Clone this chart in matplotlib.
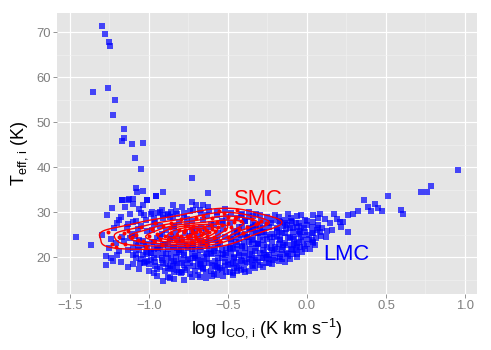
import numpy as np
import matplotlib
matplotlib.use('Agg')
import matplotlib.pyplot as plt

# LMC clouds (log I_CO, T_eff)
lmc_points = [
    # high-temperature tail
    (-1.30, 71.3), (-1.28, 69.6), (-1.25, 67.8), (-1.245, 67.0), (-1.26, 57.7), (-1.354, 56.7),
    (-1.213, 55.0), (-1.228, 51.7), (-1.156, 48.4), (-1.16, 46.5), (-1.17, 45.8), (-1.11, 45.2),
    (-1.036, 45.4), (-1.09, 42.1), (-1.049, 39.7), (-0.726, 37.5), (-1.084, 35.3), (-1.078, 34.5),
    (-1.036, 34.7), (-0.958, 33.6), (-1.17, 32.8), (-1.125, 33.0), (-1.10, 33.0), (-1.01, 32.8),
    (-0.909, 34.4), (-0.956, 33.7), (-0.627, 34.2), (-1.464, 24.4), (-1.365, 22.6),
    # bright tail
    (0.954, 39.3), (0.785, 35.8), (0.72, 34.5), (0.762, 34.5), (0.513, 33.6), (0.595, 30.5),
    (0.605, 29.6), (0.359, 32.6), (0.43, 31.8), (0.451, 30.9), (0.384, 31.1), (0.405, 30.2),
    (0.477, 30.3), (0.321, 30.2), (0.293, 29.6), (0.261, 29.3), (0.23, 27.9), (0.259, 25.6),
    (0.213, 26.7), (0.169, 29.5), (0.084, 29.6), (0.038, 29.3), (-0.04, 29.3), (0.114, 28.4),
    (0.146, 27.6), (0.188, 28.4), (0.209, 27.9), (0.156, 26.0), (0.125, 25.8), (0.093, 26.4),
    (0.061, 26.0), (0.072, 27.1), (0.03, 23.8), (0.036, 23.2), (-0.002, 24.9), (0.0, 27.1),
    (-0.044, 22.3), (-0.06, 20.8), (-0.097, 21.6), (-0.17, 20.1), (-0.213, 19.3), (-0.255, 20.1),
    (-0.287, 19.7), (-0.128, 20.8), (-0.065, 23.2), (-0.023, 23.8), (-0.087, 24.5), (-0.044, 25.6),
    (-0.087, 26.4), (-0.128, 27.1), (-0.17, 27.9), (-0.139, 28.2), (-0.097, 27.9), (-0.213, 28.2),
    (-0.255, 27.5), (-0.192, 26.0), (-0.234, 24.5), (-0.17, 23.8), (-0.128, 22.7), (-0.203, 22.3),
    (-0.255, 22.3), (-0.277, 23.8), (-0.287, 25.6), (-0.223, 21.6), (-0.16, 21.6),
    (0.02, 21.8), (0.05, 22.8), (0.09, 24.8), (0.12, 24.4), (0.04, 25.3), (0.07, 28.8),
    (-0.06, 20.0), (-0.03, 21.2), (-0.08, 22.9), (-0.02, 22.4), (-0.05, 25.8), (-0.07, 27.6),
    (-0.01, 28.2), (-0.04, 26.9),
    (-0.16, 19.5), (-0.12, 20.2), (-0.15, 22.8), (-0.11, 24.2), (-0.16, 25.3), (-0.13, 26.2),
    (-0.18, 29.0), (-0.10, 28.6), (-0.19, 24.8),
    (-0.30, 18.3), (-0.24, 18.8), (-0.27, 21.0), (-0.31, 23.0), (-0.26, 25.0), (-0.30, 26.8),
    (-0.25, 28.9), (-0.32, 29.5),
    # main body
    (-1.272, 20.2), (-1.27, 18.2), (-1.20, 20.4), (-1.30, 24.9), (-1.268, 29.3), (-1.236, 31.0),
    (-1.204, 27.6), (-1.177, 29.0), (-1.13, 32.8), (-1.10, 31.9), (-1.17, 32.6), (-1.01, 32.8),
    (-1.24, 19.7), (-1.25, 22.0), (-1.22, 26.5), (-1.24, 24.0), (-1.21, 23.2), (-1.19, 21.4),
    (-1.23, 19.2),
    (-1.18, 19.0), (-1.13, 21.5), (-1.16, 23.6), (-1.11, 25.2), (-1.14, 26.8), (-1.19, 28.3),
    (-1.12, 29.6), (-1.15, 31.2), (-1.10, 20.4), (-1.17, 24.5), (-1.13, 27.4), (-1.13, 17.8),
    (-1.10, 18.4), (-1.057, 18.6), (-1.025, 19.0),
    (-1.06, 17.3), (-1.03, 18.6), (-1.08, 19.9), (-1.02, 21.2), (-1.07, 22.4), (-1.04, 23.5),
    (-1.09, 24.7), (-1.01, 25.8), (-1.05, 27.0), (-1.08, 28.1), (-1.03, 29.3), (-1.06, 30.6),
    (-1.04, 31.5), (-1.01, 20.6), (-1.07, 26.3), (-1.02, 23.0), (-0.98, 30.0), (-1.00, 17.0),
    (-0.97, 16.4), (-0.93, 17.8), (-0.96, 18.9), (-0.92, 19.8), (-0.99, 20.9), (-0.94, 21.7),
    (-0.91, 22.6), (-0.97, 23.4), (-0.95, 24.3), (-0.92, 25.1), (-0.98, 26.0), (-0.93, 26.9),
    (-0.96, 27.8), (-0.91, 28.8), (-0.94, 29.9), (-0.92, 30.4), (-0.99, 19.3), (-0.95, 22.1),
    (-0.93, 24.8), (-0.97, 27.3), (-0.909, 14.7), (-0.95, 15.8),
    (-0.87, 15.4), (-0.84, 16.6), (-0.88, 17.6), (-0.82, 18.5), (-0.86, 19.3), (-0.83, 20.1),
    (-0.89, 20.8), (-0.81, 21.6), (-0.85, 22.3), (-0.88, 23.0), (-0.82, 23.8), (-0.86, 24.5),
    (-0.83, 25.3), (-0.89, 26.1), (-0.84, 27.0), (-0.81, 27.9), (-0.87, 28.9), (-0.846, 31.6),
    (-0.86, 30.1), (-0.82, 29.6), (-0.85, 18.0), (-0.81, 21.2), (-0.87, 24.1), (-0.84, 26.6),
    (-0.88, 29.4), (-0.793, 31.2),
    (-0.78, 15.0), (-0.74, 16.2), (-0.77, 17.1), (-0.72, 18.0), (-0.79, 18.8), (-0.75, 19.6),
    (-0.71, 20.3), (-0.78, 21.0), (-0.73, 21.7), (-0.76, 22.4), (-0.72, 23.1), (-0.79, 23.8),
    (-0.74, 24.6), (-0.77, 25.4), (-0.71, 26.2), (-0.76, 27.1), (-0.73, 28.0), (-0.78, 29.0),
    (-0.74, 30.2), (-0.73, 32.3), (-0.70, 31.6), (-0.79, 16.8), (-0.72, 19.9), (-0.77, 22.8),
    (-0.73, 25.8), (-0.76, 28.5), (-0.80, 16.4), (-0.82, 17.1),
    (-0.68, 15.6), (-0.64, 16.8), (-0.67, 17.7), (-0.62, 18.6), (-0.69, 19.4), (-0.65, 20.1),
    (-0.61, 20.9), (-0.68, 21.6), (-0.63, 22.4), (-0.66, 23.1), (-0.62, 23.9), (-0.69, 24.7),
    (-0.64, 25.5), (-0.67, 26.4), (-0.61, 27.3), (-0.66, 28.3), (-0.63, 29.4), (-0.68, 30.5),
    (-0.656, 31.6), (-0.625, 31.2), (-0.66, 17.3), (-0.63, 20.6), (-0.67, 23.5), (-0.62, 26.8),
    (-0.57, 16.0), (-0.54, 17.1), (-0.58, 18.1), (-0.52, 19.0), (-0.56, 19.8), (-0.53, 20.6),
    (-0.59, 21.3), (-0.51, 22.1), (-0.55, 22.9), (-0.58, 23.7), (-0.52, 24.5), (-0.56, 25.3),
    (-0.53, 26.2), (-0.59, 27.1), (-0.54, 28.0), (-0.51, 29.0), (-0.57, 30.0), (-0.55, 17.6),
    (-0.51, 21.0), (-0.57, 24.1), (-0.53, 27.5), (-0.60, 15.9), (-0.49, 16.8),
    (-0.47, 16.5), (-0.44, 17.6), (-0.48, 18.5), (-0.42, 19.3), (-0.46, 20.1), (-0.43, 20.9),
    (-0.49, 21.7), (-0.41, 22.5), (-0.45, 23.3), (-0.48, 24.1), (-0.42, 24.9), (-0.46, 25.8),
    (-0.43, 26.7), (-0.49, 27.6), (-0.44, 28.6), (-0.41, 29.6), (-0.45, 18.9), (-0.47, 22.1),
    (-0.44, 25.4),
    (-0.37, 17.0), (-0.34, 18.0), (-0.38, 18.9), (-0.32, 19.7), (-0.36, 20.5), (-0.33, 21.3),
    (-0.39, 22.1), (-0.31, 22.9), (-0.35, 23.7), (-0.38, 24.5), (-0.32, 25.4), (-0.36, 26.3),
    (-0.33, 27.2), (-0.39, 28.1), (-0.34, 29.1), (-0.37, 30.0), (-0.35, 19.3), (-0.37, 23.3),
    (-0.34, 26.8), (-0.40, 17.4),
    # dense core
    (-0.95, 17.4), (-0.90, 16.9), (-0.86, 17.3), (-0.81, 16.7), (-0.76, 17.5), (-0.71, 16.9),
    (-0.66, 17.6), (-0.61, 17.0), (-0.56, 17.4), (-0.51, 16.8), (-0.46, 17.5), (-0.42, 17.1),
    (-1.00, 18.5), (-0.96, 18.1), (-0.91, 18.6), (-0.87, 18.0), (-0.83, 18.7), (-0.78, 18.2),
    (-0.74, 18.6), (-0.69, 18.0), (-0.65, 18.8), (-0.60, 18.3), (-0.56, 18.7), (-0.52, 18.0),
    (-0.47, 18.6), (-0.43, 18.1), (-0.39, 18.7), (-0.35, 18.3), (-0.31, 18.9),
    (-1.05, 19.6), (-1.01, 19.2), (-0.97, 19.8), (-0.92, 19.3), (-0.88, 19.7), (-0.84, 19.1),
    (-0.80, 19.6), (-0.76, 19.3), (-0.71, 19.8), (-0.67, 19.2), (-0.63, 19.6), (-0.58, 19.1),
    (-0.54, 19.7), (-0.50, 19.4), (-0.46, 19.8), (-0.41, 19.2), (-0.37, 19.6), (-0.33, 19.3),
    (-0.28, 19.9), (-0.24, 19.5), (-0.20, 19.9),
    (-1.08, 20.8), (-1.04, 20.4), (-0.99, 20.9), (-0.95, 20.5), (-0.91, 21.0), (-0.86, 20.6),
    (-0.82, 20.9), (-0.78, 20.4), (-0.73, 20.8), (-0.69, 20.5), (-0.64, 21.0), (-0.60, 20.6),
    (-0.56, 20.9), (-0.52, 20.4), (-0.48, 20.8), (-0.43, 20.5), (-0.39, 21.0), (-0.35, 20.6),
    (-0.30, 20.9), (-0.26, 20.5), (-0.21, 21.0), (-0.17, 20.6), (-0.13, 21.0), (-0.09, 20.7),
    (-1.10, 22.0), (-1.06, 21.6), (-1.01, 22.1), (-0.97, 21.7), (-0.93, 22.2), (-0.88, 21.8),
    (-0.84, 22.1), (-0.80, 21.6), (-0.75, 22.0), (-0.71, 21.7), (-0.67, 22.2), (-0.62, 21.8),
    (-0.58, 22.1), (-0.54, 21.6), (-0.49, 22.0), (-0.45, 21.7), (-0.41, 22.2), (-0.36, 21.8),
    (-0.32, 22.1), (-0.28, 21.6), (-0.23, 22.0), (-0.19, 21.7), (-0.15, 22.2), (-0.10, 21.8),
    (-0.06, 22.1), (-0.01, 21.9),
    (-1.08, 23.2), (-1.03, 22.8), (-0.98, 23.3), (-0.90, 22.9), (-0.81, 23.2), (-0.72, 22.8),
    (-0.64, 23.3), (-0.56, 22.9), (-0.48, 23.2), (-0.44, 22.8), (-0.40, 23.3), (-0.35, 22.9),
    (-0.31, 23.2), (-0.27, 22.8), (-0.22, 23.3), (-0.18, 22.9), (-0.14, 23.2), (-0.09, 22.8),
    (-0.05, 23.3), (0.00, 22.9), (0.04, 23.4),
    (-0.47, 24.4), (-0.43, 24.0), (-0.38, 24.5), (-0.34, 24.1), (-0.30, 24.4), (-0.25, 24.0),
    (-0.21, 24.5), (-0.17, 24.1), (-0.12, 24.4), (-0.08, 24.0), (-0.04, 24.5), (0.01, 24.1),
    (0.06, 24.3), (-1.12, 24.2), (-1.06, 23.9),
    (-0.44, 25.6), (-0.39, 25.2), (-0.35, 25.7), (-0.31, 25.3), (-0.27, 25.6), (-0.22, 25.2),
    (-0.18, 25.7), (-0.14, 25.3), (-0.09, 25.6), (-0.05, 25.2), (-0.01, 25.7), (0.03, 25.4),
    (0.08, 25.6),
    (-0.41, 26.8), (-0.37, 26.4), (-0.32, 26.9), (-0.28, 26.5), (-0.24, 26.8), (-0.19, 26.4),
    (-0.15, 26.9), (-0.11, 26.5), (-0.06, 26.8), (-0.02, 26.4), (0.03, 26.7), (0.07, 26.5),
    (-0.39, 28.0), (-0.34, 27.6), (-0.29, 28.1), (-0.23, 27.7), (-0.18, 28.0), (-0.14, 27.6),
    (-0.10, 28.1), (-0.05, 27.7), (0.00, 28.0), (0.04, 27.8), (-1.10, 27.9), (-1.02, 28.3),
    (-0.97, 28.8), (-0.91, 29.3), (-0.85, 29.0),
    (-1.05, 29.9), (-0.99, 29.5), (-0.93, 30.0), (-0.88, 29.6), (-0.83, 30.3), (-0.78, 29.8),
    (-0.72, 30.4), (-0.67, 29.9), (-0.62, 30.2), (-0.57, 29.4), (-0.52, 30.8), (-0.48, 29.9),
    (-0.42, 29.3), (-0.37, 29.0), (-0.30, 29.3), (-0.20, 29.4), (-0.12, 29.5), (-0.06, 29.1),
    (-0.88, 15.6), (-0.84, 15.1), (-0.73, 15.5), (-0.69, 16.1), (-0.59, 16.3), (-0.53, 15.8),
    (-0.47, 16.1), (-0.64, 15.4), (-0.39, 16.7), (-0.28, 17.8), (-0.22, 18.4), (-0.14, 19.0),
    (-0.44, 16.9), (-0.33, 17.6), (-0.26, 18.6), (-0.18, 19.2), (-0.11, 19.6), (-0.57, 17.9),
    (-0.50, 18.3), (-0.68, 18.5), (-0.89, 18.4), (-0.40, 20.2), (-0.24, 20.4), (-0.07, 21.5),
]

# SMC clouds
smc_points = [
    # central concentration
    (-0.72, 25.3), (-0.70, 25.6), (-0.74, 25.0), (-0.68, 25.9), (-0.76, 24.8), (-0.71, 24.7),
    (-0.73, 25.9), (-0.66, 25.4), (-0.78, 25.5), (-0.69, 26.3), (-0.75, 24.3), (-0.64, 26.0),
    (-0.80, 24.6), (-0.67, 24.9), (-0.77, 26.1), (-0.62, 25.7), (-0.82, 25.0), (-0.70, 24.2),
    (-0.74, 26.5), (-0.60, 26.3), (-0.84, 24.4), (-0.65, 26.7), (-0.79, 23.9), (-0.58, 25.8),
    (-0.86, 25.3), (-0.63, 24.6), (-0.81, 26.0), (-0.56, 26.6), (-0.88, 24.1), (-0.69, 23.8),
    (-0.72, 27.0), (-0.54, 27.1), (-0.90, 24.8), (-0.61, 27.2), (-0.83, 23.5), (-0.52, 26.2),
    (-0.93, 24.0), (-0.66, 23.6), (-0.77, 27.0), (-0.50, 27.5), (-0.95, 25.2), (-0.59, 24.4),
    (-0.87, 26.4), (-0.48, 26.8), (-0.97, 23.6), (-0.73, 23.3), (-0.57, 27.8), (-0.91, 26.9),
    (-0.46, 27.9), (-1.00, 24.7),
    # outskirts
    (-1.257, 25.5), (-1.234, 23.0), (-1.21, 22.3), (-1.152, 23.0), (-1.19, 24.5), (-1.16, 25.4),
    (-1.135, 25.8), (-1.11, 24.4), (-1.05, 26.7), (-1.02, 22.2), (-0.86, 27.7), (-0.557, 30.2),
    (-0.527, 29.9), (-0.445, 30.4), (-0.449, 29.0), (-0.458, 28.4), (-0.50, 29.0), (-0.603, 28.6),
    (-0.29, 28.0), (-0.26, 27.7), (-0.405, 25.4), (-0.50, 24.5), (-1.08, 25.0), (-1.04, 23.6),
    (-0.96, 27.6), (-0.92, 22.6), (-0.80, 28.4), (-0.70, 28.8), (-0.64, 22.8), (-0.55, 23.6),
    (-0.42, 28.0), (-0.38, 26.6), (-0.35, 28.5), (-0.32, 27.3), (-0.31, 27.6), (-0.43, 26.3),
    (-0.66, 29.2), (-0.76, 22.6), (-0.98, 26.2), (-1.07, 23.8),
]

xticks = [-1.5, -1.0, -0.5, 0.0, 0.5, 1.0]
yticks = [20, 30, 40, 50, 60, 70]

lmc = np.array(lmc_points)
smc = np.array(smc_points)

plt.rcParams['font.family'] = 'Liberation Sans'
plt.rcParams['mathtext.fontset'] = 'custom'
plt.rcParams['mathtext.rm'] = 'Liberation Sans'
plt.rcParams['mathtext.it'] = 'Liberation Sans:italic'

fig = plt.figure(figsize=(491 / 72, 350 / 72), dpi=72)
ax = fig.add_axes([57 / 491, 1 - 294 / 350, 420 / 491, 281 / 350])
ax.set_facecolor('#E5E5E5')
for s in ax.spines.values():
    s.set_visible(False)

ax.set_xlim(-1.582, 1.076)
ax.set_ylim(11.8, 74.3)
ax.set_xticks(xticks)
ax.set_yticks(yticks)
ax.set_xticks([-1.25, -0.75, -0.25, 0.25, 0.75], minor=True)
ax.set_yticks([15, 25, 35, 45, 55, 65], minor=True)
ax.grid(which='major', color='white', linewidth=1.2)
ax.grid(which='minor', color='#F2F2F2', linewidth=0.6)
ax.set_axisbelow(True)
ax.tick_params(which='major', length=4, width=0.8, color='#7F7F7F', labelcolor='#7F7F7F', labelsize=13, pad=2)
ax.tick_params(which='minor', length=0)

ax.scatter(lmc[:, 0], lmc[:, 1], marker='s', s=28, color='blue', alpha=0.7, linewidths=0)


# 2D density of SMC points (like MASS::kde2d with bandwidth.nrd)
def nrd(v):
    q = np.percentile(v, [25, 75])
    h = (q[1] - q[0]) / 1.34
    return 4 * 1.06 * min(np.std(v, ddof=1), h) * len(v) ** (-0.2)


hx, hy = 1.2 * nrd(smc[:, 0]) / 4, 1.2 * nrd(smc[:, 1]) / 4
gx = np.linspace(-1.5, -0.1, 200)
gy = np.linspace(18, 34, 200)
kx = np.exp(-0.5 * ((gx[:, None] - smc[None, :, 0]) / hx) ** 2)
ky = np.exp(-0.5 * ((gy[:, None] - smc[None, :, 1]) / hy) ** 2)
z = (ky @ kx.T) / (2 * np.pi * hx * hy * len(smc))
ax.contour(gx, gy, z, levels=8, colors='red', linewidths=1.4)

ax.scatter(smc[:, 0], smc[:, 1], marker='o', s=16, color='red', linewidths=0)

ax.text(-0.306, 32.8, 'SMC', color='red', fontsize=22, ha='center', va='center')
ax.text(0.251, 20.5, 'LMC', color='blue', fontsize=22, ha='center', va='center')

ax.set_xlabel(r'log I$_{\mathrm{CO,\,i}}$ (K km s$^{-1}$)', fontsize=18, labelpad=4)
ax.set_ylabel(r'T$_{\mathrm{eff,\,i}}$ (K)', fontsize=18, labelpad=6)

fig.savefig('out.png', dpi=72)
